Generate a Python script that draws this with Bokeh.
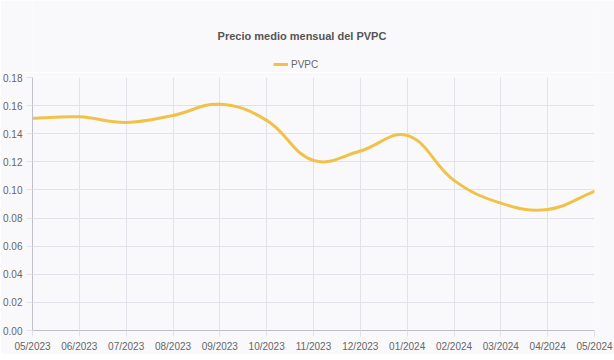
import numpy as np
from bokeh.plotting import figure
from bokeh.layouts import column
from bokeh.models import FixedTicker, Legend, LegendItem, Range1d
from bokeh.core.properties import value
from bokeh.embed import file_html
from bokeh.resources import INLINE

# ---- data ----
months = ["05/2023", "06/2023", "07/2023", "08/2023", "09/2023", "10/2023",
          "11/2023", "12/2023", "01/2024", "02/2024", "03/2024", "04/2024", "05/2024"]
pvpc = [0.151, 0.152, 0.148, 0.153, 0.161, 0.1495, 0.121, 0.1277, 0.1388,
        0.1068, 0.0906, 0.0861, 0.0990]
y_ticks = [0.0, 0.02, 0.04, 0.06, 0.08, 0.10, 0.12, 0.14, 0.16, 0.18]
y_labels = ["0.00", "0.02", "0.04", "0.06", "0.08", "0.10", "0.12", "0.14", "0.16", "0.18"]
title_text = "Precio medio mensual del PVPC"
series_name = "PVPC"

FONT = "Liberation Sans"
LINE_COLOR = "#f0c24a"
GRID = "#e2e3ea"
BG = "#f9f9fc"

W = 614
HEAD_H = 72
MAIN_H = 282

# ---- header: title + legend (its frame is aligned with the main frame) ----
head = figure(width=W, height=HEAD_H, output_backend="svg", toolbar_location=None,
              x_range=Range1d(0, 1), y_range=Range1d(0, 1),
              min_border_left=0, min_border_right=0, min_border_top=0, min_border_bottom=0,
              background_fill_color=BG, border_fill_color=BG, outline_line_color=None)
head.axis.visible = False
head.grid.visible = False
head.text(x=[269 / 561], y=[1 - 35 / HEAD_H], text=[title_text], text_align="center",
          text_baseline="middle", text_font=value(FONT), text_font_size="11px",
          text_font_style="bold", text_color="#555555")
# legend renderer: a line kept outside the visible range so only its legend entry shows
legend_r = head.line([-10, -9], [-10, -10], line_color=LINE_COLOR, line_width=3)
legend = Legend(items=[LegendItem(label=series_name, renderers=[legend_r])],
                orientation="horizontal", location=(241, 2),
                border_line_color=None, background_fill_alpha=0,
                label_text_font=FONT, label_text_font_size="10px",
                label_text_color="#666666", glyph_width=15, glyph_height=12,
                label_standoff=3, padding=0, margin=0, spacing=0)
head.add_layout(legend, "center")

# ---- main chart ----
p = figure(width=W, height=MAIN_H, output_backend="svg", toolbar_location=None,
           x_range=Range1d(0, len(months) - 1), y_range=Range1d(0, 0.18),
           min_border_left=0, min_border_right=20, min_border_top=5, min_border_bottom=0,
           background_fill_color=BG, border_fill_color=BG, outline_line_color=None)

# smooth line (Chart.js-like spline through the data points)
xs = np.arange(len(months), dtype=float)
ys = np.array(pvpc, dtype=float)
sx, sy = 46.75, 1405.0  # approx px per data unit, only for the tension weights
t = 0.4
n = len(xs)
cp_prev = np.zeros((n, 2))
cp_next = np.zeros((n, 2))
for i in range(n):
    a = (xs[max(i - 1, 0)], ys[max(i - 1, 0)])
    m = (xs[i], ys[i])
    b = (xs[min(i + 1, n - 1)], ys[min(i + 1, n - 1)])
    d01 = np.hypot((m[0] - a[0]) * sx, (m[1] - a[1]) * sy)
    d12 = np.hypot((b[0] - m[0]) * sx, (b[1] - m[1]) * sy)
    tot = d01 + d12
    s01 = d01 / tot if tot else 0
    s12 = d12 / tot if tot else 0
    fa, fb = t * s01, t * s12
    cp_prev[i] = (m[0] - fa * (b[0] - a[0]), m[1] - fa * (b[1] - a[1]))
    cp_next[i] = (m[0] + fb * (b[0] - a[0]), m[1] + fb * (b[1] - a[1]))

p.bezier(x0=xs[:-1], y0=ys[:-1], x1=xs[1:], y1=ys[1:],
         cx0=cp_next[:-1, 0], cy0=cp_next[:-1, 1],
         cx1=cp_prev[1:, 0], cy1=cp_prev[1:, 1],
         line_color=LINE_COLOR, line_width=3, line_cap="round")

p.xaxis.ticker = FixedTicker(ticks=list(range(len(months))))
p.xaxis.major_label_overrides = {i: m for i, m in enumerate(months)}
p.yaxis.ticker = FixedTicker(ticks=y_ticks)
p.yaxis.major_label_overrides = {v: l for v, l in zip(y_ticks, y_labels)}

for ax in (p.xaxis[0], p.yaxis[0]):
    ax.major_label_text_font = FONT
    ax.major_label_text_font_size = "10px"
    ax.major_label_text_color = "#666666"
    ax.axis_line_color = "#c0c0c8"
    ax.major_tick_line_color = GRID
    ax.major_tick_out = 6
    ax.major_tick_in = 0
    ax.minor_tick_line_color = None
    ax.major_label_standoff = 4

p.xgrid.grid_line_color = GRID
p.ygrid.grid_line_color = GRID

layout = column(head, p, spacing=0)
open("out.html", "w").write(file_html(layout, INLINE))
